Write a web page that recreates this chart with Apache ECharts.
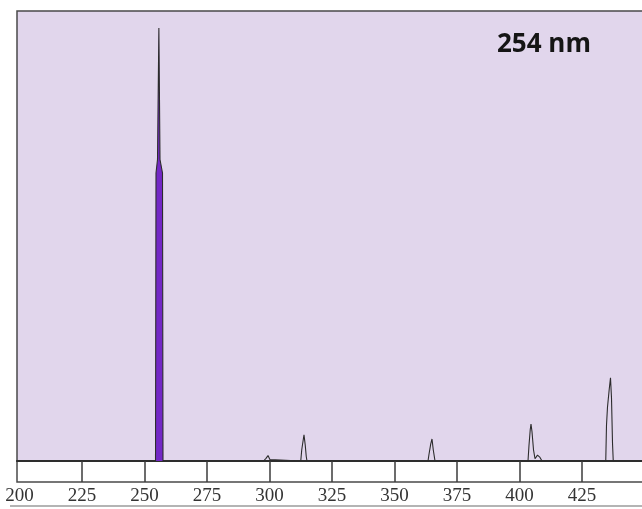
<!DOCTYPE html>
<html>
<head>
<meta charset="utf-8">
<title>Mercury lamp emission spectrum</title>
<script src="https://cdn.jsdelivr.net/npm/echarts@6/dist/echarts.min.js"></script>
<style>
  html, body { margin: 0; padding: 0; background: #ffffff; }
  #chart { width: 642px; height: 509px; }
</style>
</head>
<body>
<div id="chart"></div>
<script>
// Emission spectrum of a low-pressure mercury lamp (relative intensity vs wavelength)
const wavelength = [
  199, 240, 254.4, 254.6, 255.2, 255.75, 256.2, 257.2, 257.4,
  297.6, 298.6, 299.4, 300.2, 301,
  312.5, 312.9, 313.3, 313.8, 314.3, 314.7, 315.0,
  363.4, 363.8, 364.5, 365.0, 365.5, 366.2,
  403.4, 403.8, 404.3, 404.6, 405.0, 405.6, 406.2, 407.2, 408.2, 409.0,
  434.5, 434.8, 435.2, 435.9, 436.4, 436.8, 437.2, 437.5, 459
];
const intensity = [
  0, 0, 0, 64, 67, 96.2, 67, 64, 0,
  0, 0.6, 1.2, 0.3, 0,
  0, 2.5, 4.0, 5.8, 3.5, 1.0, 0,
  0, 1.5, 3.8, 4.9, 2.5, 0,
  0, 3.5, 7.0, 8.2, 6.5, 2.5, 0.5, 1.3, 0.8, 0,
  0, 8, 12, 16, 18.5, 14, 4, 0, 0
];
// Wavelength range of the highlighted 254 nm line
const highlightRange = [254, 258];
const tickValues = [225, 250, 275, 300, 325, 350, 375, 400, 425];
const labelValues = [200, 225, 250, 275, 300, 325, 350, 375, 400, 425];
const headline = '254 nm';

const spectrum = wavelength.map((w, i) => [w, intensity[i]]);
const highlighted = spectrum.filter(p => p[0] >= highlightRange[0] && p[0] <= highlightRange[1]);

// The plot runs past the right edge of the page, so its frame is open there
const X_MIN = 199, X_MAX = 459;

const chart = echarts.init(document.getElementById('chart'), null, { renderer: 'canvas' });
chart.setOption({
  animation: false,
  backgroundColor: '#ffffff',
  title: {
    text: headline,
    left: 492,
    top: 27,
    textStyle: { fontFamily: 'Open Sans', fontWeight: 'bold', fontSize: 26, color: '#151515' }
  },
  grid: [
    { left: 17, width: 650, top: 11, height: 450, show: true, outerBoundsMode: 'none',
      backgroundColor: '#e1d6ec', borderColor: '#4a4a4a', borderWidth: 1.5 },
    { left: 17, width: 650, top: 461, height: 21, show: true, outerBoundsMode: 'none',
      backgroundColor: '#ffffff', borderColor: '#4a4a4a', borderWidth: 1.5 }
  ],
  xAxis: [
    { type: 'value', gridIndex: 0, min: X_MIN, max: X_MAX,
      axisLine: { show: true, lineStyle: { color: '#2e2e2e', width: 2 } },
      axisTick: { show: false }, axisLabel: { show: false }, splitLine: { show: false } },
    { type: 'value', gridIndex: 1, min: X_MIN, max: X_MAX, position: 'bottom',
      axisLine: { show: false },
      axisTick: { show: true, inside: true, length: 21, customValues: tickValues,
        lineStyle: { color: '#3c3c3c', width: 1.5 } },
      axisLabel: { show: true, customValues: labelValues, margin: 5, hideOverlap: false,
        fontFamily: 'Liberation Serif', fontSize: 19, color: '#333333' },
      splitLine: { show: false } }
  ],
  yAxis: [
    { type: 'value', gridIndex: 0, min: 0, max: 100,
      axisLine: { show: false }, axisTick: { show: false },
      axisLabel: { show: false }, splitLine: { show: false } },
    { type: 'value', gridIndex: 1, min: 0, max: 1,
      axisLine: { show: false }, axisTick: { show: false },
      axisLabel: { show: false }, splitLine: { show: false } }
  ],
  graphic: [
    { type: 'line', shape: { x1: 10, y1: 506, x2: 642, y2: 506 },
      style: { stroke: '#b4b4b4', lineWidth: 2 }, silent: true }
  ],
  series: [
    { name: '254 nm line', type: 'line', xAxisIndex: 0, yAxisIndex: 0,
      data: highlighted, showSymbol: false, z: 2,
      lineStyle: { width: 0 },
      areaStyle: { color: '#7328c6', opacity: 1 } },
    { name: 'spectrum', type: 'line', xAxisIndex: 0, yAxisIndex: 0,
      data: spectrum, showSymbol: false, z: 3,
      lineStyle: { color: '#2c2c2c', width: 1.1 } }
  ]
});
</script>
</body>
</html>
